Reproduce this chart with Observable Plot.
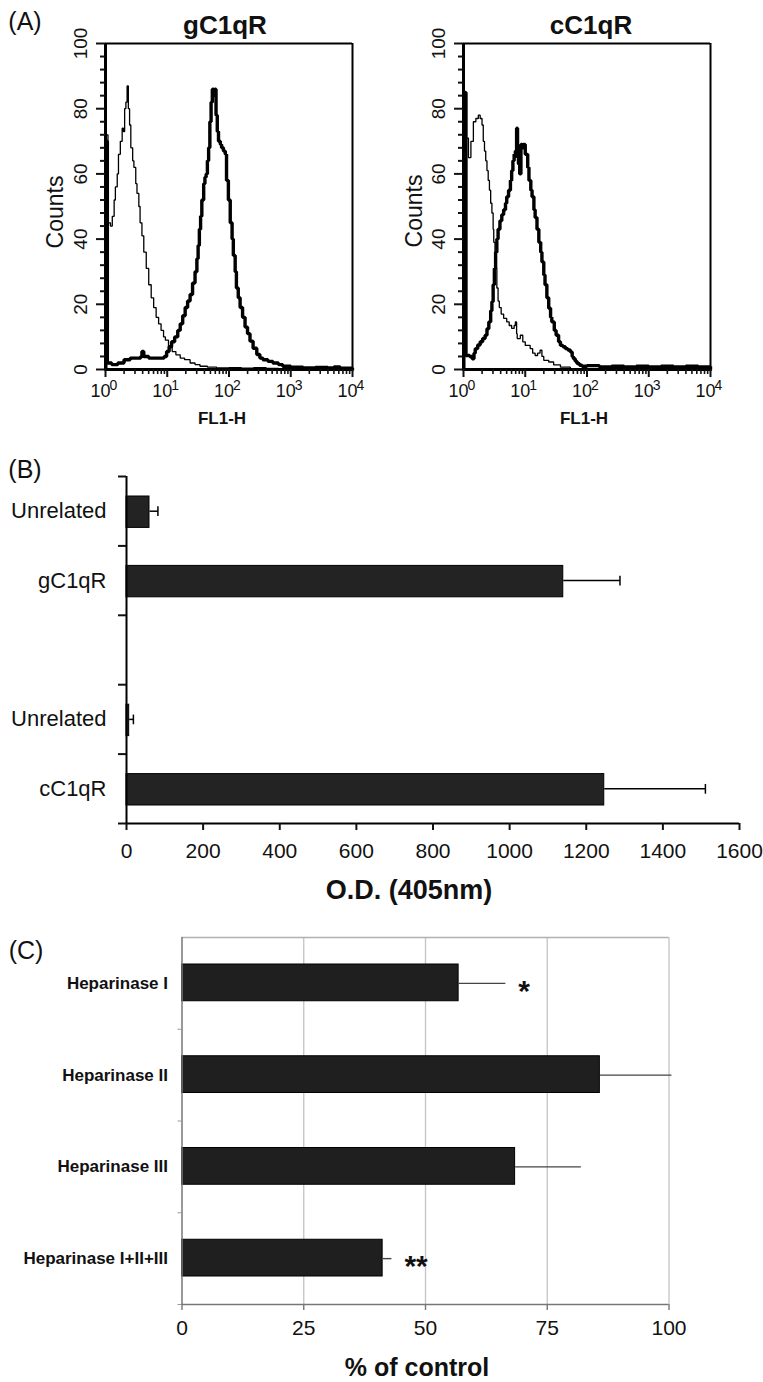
<!DOCTYPE html>
<html><head><meta charset="utf-8">
<script src="https://cdn.jsdelivr.net/npm/d3@7"></script>
<script src="https://cdn.jsdelivr.net/npm/@observablehq/plot@0.6"></script>
<style>
body{margin:0;background:#fff;}
#root{position:relative;width:763px;height:1382px;background:#fff;font-family:"Liberation Sans",Arial,sans-serif;color:#111;overflow:hidden}
.p{position:absolute}
.t{position:absolute;line-height:1;white-space:nowrap}
</style></head><body><div id="root"></div>
<script>
// ---------- Panel A: flow cytometry histograms, [log10(FL1-H), counts] ----------
const gC1qRControl = [[0,0],[0.005,72],[0.04,45],[0.08,44],[0.11,47],[0.14,52],[0.16,56],[0.19,60],[0.21,66],[0.24,70],[0.27,74],[0.29,73],[0.31,80],[0.33,82],[0.35,87],[0.37,80],[0.39,75],[0.41,68],[0.44,64],[0.46,62],[0.49,57],[0.51,54],[0.54,50],[0.56,45],[0.59,41],[0.62,36],[0.66,31],[0.70,26],[0.74,22],[0.78,19],[0.82,16],[0.86,14],[0.90,12],[0.94,10],[0.97,9],[1.02,7],[1.08,5.5],[1.14,4.5],[1.21,3.5],[1.28,3],[1.37,2],[1.45,1.5],[1.53,1],[1.65,0.7],[1.8,0.5],[2.0,0.6],[2.2,0.4],[2.4,0.6],[2.6,0.3],[2.8,0.2],[3.0,0],[4,0]];
const gC1qRStained = [[0,0],[0.005,70],[0.03,2],[0.1,1.5],[0.2,2],[0.3,3],[0.4,3.5],[0.5,3.5],[0.57,4],[0.59,5.5],[0.62,4],[0.7,3.5],[0.8,3.5],[0.9,3.5],[0.95,4],[0.99,5.5],[1.03,7],[1.07,8.5],[1.12,10],[1.17,12],[1.21,14],[1.25,16.5],[1.29,19],[1.33,21],[1.37,23],[1.41,26.5],[1.45,30],[1.48,34],[1.5,38],[1.52,43],[1.54,47],[1.56,52],[1.59,57],[1.61,59],[1.63,60],[1.65,64],[1.67,68],[1.69,76],[1.71,82],[1.73,86],[1.75,84],[1.77,86],[1.79,78],[1.81,73],[1.83,70],[1.86,69],[1.88,68],[1.91,67],[1.94,66],[1.96,58],[1.99,52],[2.02,45],[2.05,40],[2.07,35],[2.10,30],[2.12,25],[2.15,22],[2.18,19],[2.22,16],[2.26,13],[2.30,11],[2.34,8.7],[2.39,6.5],[2.45,4.6],[2.50,3.5],[2.55,3],[2.63,2.5],[2.71,2],[2.8,1.5],[2.87,1],[3.0,0.7],[3.2,0.5],[3.4,0.6],[3.6,0.5],[3.7,0.8],[3.8,0.4],[4,0]];
const cC1qRControl = [[0,0],[0.005,71],[0.04,71],[0.08,65],[0.12,70],[0.16,76],[0.20,77],[0.24,78],[0.27,77],[0.30,75],[0.32,70],[0.34,67],[0.36,64],[0.38,61],[0.40,58],[0.42,55],[0.44,51],[0.46,48],[0.48,43],[0.49,39],[0.51,31],[0.54,25],[0.56,21],[0.58,19],[0.61,17],[0.65,15.7],[0.70,14.6],[0.74,13.5],[0.78,12.6],[0.82,13.5],[0.84,14.6],[0.86,11],[0.87,9.5],[0.92,10.5],[0.96,8.5],[1.0,7.4],[1.08,6.4],[1.12,5],[1.16,4.3],[1.20,5],[1.24,5.9],[1.27,4],[1.30,2.8],[1.38,2.3],[1.46,1.4],[1.57,0.7],[1.73,0.2],[1.9,0],[4,0]];
const cC1qRStained = [[0,0],[0.005,85],[0.04,4.3],[0.10,4],[0.14,3.3],[0.17,5],[0.19,6.4],[0.23,7.5],[0.27,8.5],[0.31,9.5],[0.35,10.5],[0.38,12.5],[0.41,14.6],[0.44,18],[0.46,20.8],[0.48,26],[0.50,31],[0.52,36],[0.54,40],[0.56,43],[0.59,45.6],[0.62,47.5],[0.65,49],[0.68,51],[0.70,53],[0.73,55],[0.76,58],[0.78,61],[0.80,64],[0.82,66],[0.84,67],[0.86,74],[0.875,65],[0.89,63],[0.91,60],[0.93,69],[0.95,68],[0.97,69],[1.00,66],[1.02,66],[1.04,62],[1.06,58],[1.09,55],[1.11,53],[1.14,49],[1.16,46.6],[1.19,43],[1.22,39],[1.25,36],[1.27,33],[1.30,29],[1.32,26],[1.35,22],[1.38,18.8],[1.41,16],[1.43,14.6],[1.47,12],[1.50,10.5],[1.54,8.5],[1.57,7.4],[1.61,7],[1.65,6.4],[1.69,6],[1.73,5.4],[1.76,4],[1.78,3.3],[1.81,2.5],[1.84,1.8],[1.88,1.3],[1.92,1],[2.0,1.2],[2.2,0.8],[2.4,1],[2.6,0.8],[2.8,1],[3.0,0.8],[3.2,1],[3.4,0.8],[3.6,1],[3.8,0.8],[4,1],[4,0]];
const histTitles = ["gC1qR", "cC1qR"];
const decadeExponents = [0, 1, 2, 3, 4];
const countTicks = [0, 20, 40, 60, 80, 100];

// ---------- Panel B: ELISA O.D. (405nm) ----------
const bLabels = ["Unrelated", "gC1qR", "", "Unrelated", "cC1qR"];
const bValues = [60, 1140, null, 7, 1247];
const bErrorEnds = [82, 1288, null, 18, 1511];
const bTicks = [0, 200, 400, 600, 800, 1000, 1200, 1400, 1600];

// ---------- Panel C: % of control ----------
const cLabels = ["Heparinase I", "Heparinase II", "Heparinase III", "Heparinase I+II+III"];
const cValues = [56.8, 85.8, 68.4, 41.2];
const cErrorEnds = [66.4, 100.5, 81.9, 43.0];
const cSignif = ["*", "", "", "**"];
const cTicks = [0, 25, 50, 75, 100];

// ---------- layout helpers ----------
const root = document.getElementById("root");
const FONT = "'Liberation Sans', Arial, sans-serif";
function addText(txt, x, y, size, weight, rot) {
  const d = document.createElement("div");
  d.className = "t";
  d.textContent = txt;
  d.style.left = x + "px";
  d.style.top = y + "px";
  d.style.fontSize = size + "px";
  d.style.fontWeight = weight || "normal";
  d.style.transform = `translate(-50%,-50%) rotate(${rot || 0}deg)`;
  root.appendChild(d);
}
function place(svg, left, top) {
  const w = document.createElement("div");
  w.className = "p";
  w.style.left = left + "px";
  w.style.top = top + "px";
  w.appendChild(svg);
  root.appendChild(w);
}
const style = {fontFamily: FONT, background: "transparent", color: "#111", overflow: "visible"};

// ---------- Panel A ----------
const minorX = [];
for (const e of [0, 1, 2, 3]) for (let k = 2; k <= 9; k++) minorX.push(k * 10 ** e);
const minorY = [];
for (let v = 4; v < 100; v += 4) if (v % 20 !== 0) minorY.push(v);

function histPlot(ctrl, stained, width, ml, mr) {
  return Plot.plot({
    width, height: 430,
    marginLeft: ml, marginRight: mr, marginTop: 43, marginBottom: 61,
    style,
    x: {type: "log", domain: [1, 1e4]},
    y: {domain: [0, 100]},
    marks: [
      Plot.line(ctrl, {x: d => 10 ** d[0], y: d => d[1], curve: "step-after", stroke: "#000", strokeWidth: 1.3, strokeLinejoin: "miter"}),
      Plot.line(stained, {x: d => 10 ** d[0], y: d => d[1], curve: "step-after", stroke: "#000", strokeWidth: 3.4, strokeLinejoin: "miter"}),
      Plot.ruleY([100], {stroke: "#000", strokeWidth: 2}),
      Plot.ruleX([1e4], {stroke: "#000", strokeWidth: 2}),
      Plot.ruleX([1], {stroke: "#000", strokeWidth: 3}),
      Plot.ruleY([0], {stroke: "#000", strokeWidth: 3}),
      Plot.axisX({ticks: decadeExponents.map(e => 10 ** e), tickSize: 8, tickFormat: () => "", label: null, strokeWidth: 2}),
      Plot.axisX({ticks: minorX, tickSize: 5, tickFormat: () => "", label: null, strokeWidth: 1.6}),
      Plot.axisY({ticks: countTicks, tickSize: 9, tickFormat: () => "", label: null, strokeWidth: 2}),
      Plot.axisY({ticks: minorY, tickSize: 5, tickFormat: () => "", label: null, strokeWidth: 2}),
      Plot.text(decadeExponents, {x: e => 10 ** e, text: () => "10", frameAnchor: "bottom", dy: 27, dx: -5, fontSize: 18, fill: "#111"}),
      Plot.text(decadeExponents, {x: e => 10 ** e, text: e => String(e), frameAnchor: "bottom", dy: 20, dx: 8, fontSize: 14, fill: "#111"}),
      Plot.text(countTicks, {y: d => d, text: d => String(d), frameAnchor: "left", textAnchor: "middle", dx: -25, rotate: -90, fontSize: 19, fill: "#111"})
    ]
  });
}
place(histPlot(gC1qRControl, gC1qRStained, 380, 105, 28), 0, 0);
place(histPlot(cC1qRControl, cC1qRStained, 383, 83, 53), 380, 0);

addText("(A)", 25, 21, 25);
addText(histTitles[0], 225, 25, 26, "bold");
addText(histTitles[1], 591, 25, 26, "bold");
addText("Counts", 55, 212, 23, "normal", -90);
addText("Counts", 414, 211, 23, "normal", -90);
addText("FL1-H", 222, 418, 17, "bold");
addText("FL1-H", 584, 418, 17, "bold");

// ---------- Panel B ----------
const bData = bLabels.map((label, i) => ({i, label, v: bValues[i], e: bErrorEnds[i]})).filter(d => d.v != null);
const bPlot = Plot.plot({
  width: 763, height: 470,
  marginLeft: 126, marginRight: 24, marginTop: 36, marginBottom: 87,
  style,
  x: {domain: [0, 1600]},
  y: {domain: [0, bLabels.length], reverse: true},
  marks: [
    Plot.rect(bData, {x1: () => 0, x2: "v", y1: "i", y2: d => d.i + 1, insetTop: 20, insetBottom: 18, fill: "#232323", stroke: "#000", strokeWidth: 1}),
    Plot.link(bData, {x1: "v", x2: "e", y1: d => d.i + 0.5, y2: d => d.i + 0.5, stroke: "#000", strokeWidth: 1.5}),
    Plot.link(bData, {x1: "e", x2: "e", y1: d => d.i + 0.43, y2: d => d.i + 0.57, stroke: "#000", strokeWidth: 1.5}),
    Plot.ruleX([0], {stroke: "#000", strokeWidth: 2}),
    Plot.ruleY([bLabels.length], {stroke: "#000", strokeWidth: 2}),
    Plot.axisY({ticks: d3.range(bLabels.length + 1), tickSize: 8, tickFormat: () => "", label: null, strokeWidth: 2}),
    Plot.text(bLabels.map((label, i) => ({i, label})), {y: d => d.i + 0.5, text: "label", frameAnchor: "left", dx: -20, textAnchor: "end", fontSize: 22, fill: "#111"}),
    Plot.axisX({ticks: bTicks, tickSize: 7, tickPadding: 13, fontSize: 21, tickFormat: d => String(d), label: null, strokeWidth: 2})
  ]
});
place(bPlot, 0, 440);
addText("(B)", 25, 469, 25);
addText("O.D. (405nm)", 409, 890, 27, "bold");

// ---------- Panel C ----------
const cData = cLabels.map((label, i) => ({i, label, v: cValues[i], e: cErrorEnds[i], s: cSignif[i]}));
const cPlot = Plot.plot({
  width: 763, height: 440,
  marginLeft: 181.5, marginRight: 94.5, marginTop: 37, marginBottom: 36,
  style,
  x: {domain: [0, 100]},
  y: {domain: [0, cLabels.length], reverse: true},
  marks: [
    Plot.ruleX(cTicks.slice(1), {stroke: "#c4c4c4", strokeWidth: 1.3}),
    Plot.ruleY([0], {stroke: "#b0b0b0", strokeWidth: 1.3}),
    Plot.rect(cData, {x1: () => 0, x2: "v", y1: "i", y2: d => d.i + 1, insetTop: 27, insetBottom: 28, fill: "#1f1f1f", stroke: "#000", strokeWidth: 1}),
    Plot.link(cData, {x1: "v", x2: "e", y1: d => d.i + 0.5, y2: d => d.i + 0.5, stroke: "#444", strokeWidth: 1.4}),
    Plot.text(cData, {x: "e", y: d => d.i + 0.5, text: "s", dx: 13, dy: 8, textAnchor: "start", fontSize: 30, fontWeight: "bold", fill: "#111"}),
    Plot.ruleX([0], {stroke: "#777", strokeWidth: 1.5}),
    Plot.ruleY([cLabels.length], {stroke: "#777", strokeWidth: 1.5}),
    Plot.axisY({ticks: d3.range(1, cLabels.length + 1), tickSize: 4, tickFormat: () => "", label: null, stroke: "#999"}),
    Plot.text(cData, {y: d => d.i + 0.5, text: "label", frameAnchor: "left", dx: -14, textAnchor: "end", fontSize: 17, fontWeight: "bold", fill: "#111"}),
    Plot.axisX({ticks: cTicks, tickSize: 6, tickPadding: 9.5, fontSize: 21, label: null, stroke: "#777", strokeWidth: 1.4})
  ]
});
place(cPlot, 0, 900);
addText("(C)", 26, 950, 25);
addText("% of control", 417, 1367, 25, "bold");
</script></body></html>
